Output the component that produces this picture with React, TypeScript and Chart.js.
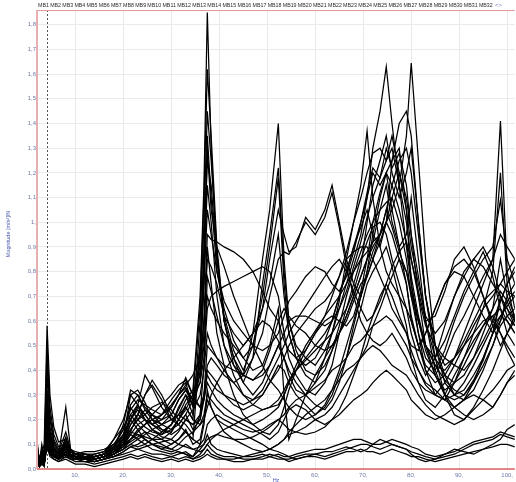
import { useEffect, useRef } from "react";
import { Chart, registerables } from "chart.js";

Chart.register(...registerables);

const freqHz = [
  2, 2.5, 3, 3.5, 4.1, 4.7, 5.5, 6.5, 8, 9,
  10, 12, 14, 16, 18, 20, 21.5, 23, 24.5, 26,
  28, 30, 31.5, 33, 34.5, 36, 36.8, 37.5, 38.3, 39.5,
  41, 43, 45, 47, 49, 50.5, 52.3, 53.5, 54.5, 56,
  58, 60, 62, 63.5, 65, 66.5, 68, 69.5, 70.8, 72,
  73.5, 74.8, 76, 77.5, 79, 80, 81.5, 83, 85, 87,
  89, 91, 93, 95, 97, 98.6, 100, 101.6,
];

const s01 = [
  0.08, 0.03, 0.06, 0.1, 0.58, 0.3, 0.17, 0.11, 0.12, 0.08,
  0.07, 0.06, 0.05, 0.06, 0.09, 0.14, 0.2, 0.26, 0.38, 0.33,
  0.25, 0.2, 0.22, 0.28, 0.32, 0.7, 1.15, 1.85, 1.3, 0.85,
  0.6, 0.45, 0.35, 0.3, 0.35, 0.42, 0.5, 0.45, 0.38, 0.32,
  0.3, 0.35, 0.45, 0.55, 0.65, 0.75, 0.85, 0.95, 1.1, 1.3,
  1.45, 1.63, 1.4, 1.15, 0.9, 0.75, 0.6, 0.5, 0.42, 0.4,
  0.45, 0.5, 0.55, 0.6, 0.62, 0.65, 0.6, 0.55,
];
const s02 = [
  0.12, 0.02, 0.1, 0.05, 0.5, 0.25, 0.14, 0.09, 0.1, 0.07,
  0.06, 0.05, 0.05, 0.06, 0.08, 0.18, 0.32, 0.3, 0.25, 0.22,
  0.2, 0.25, 0.3, 0.37, 0.3, 0.65, 1.1, 1.62, 1.35, 0.9,
  0.6, 0.45, 0.38, 0.55, 0.85, 1.05, 1.4, 0.85, 0.6, 0.48,
  0.4, 0.38, 0.42, 0.48, 0.55, 0.62, 0.7, 0.78, 0.85, 0.9,
  0.95, 1.0, 1.05, 1.15, 1.35, 1.645, 1.25, 0.85, 0.5, 0.35,
  0.3, 0.32, 0.38, 0.45, 0.55, 0.7, 0.65, 0.58,
];
const s03 = [
  0.04, 0.02, 0.05, 0.03, 0.45, 0.22, 0.12, 0.08, 0.09, 0.06,
  0.05, 0.05, 0.04, 0.05, 0.08, 0.12, 0.3, 0.32, 0.27, 0.2,
  0.16, 0.15, 0.2, 0.25, 0.2, 0.6, 1.0, 1.45, 1.25, 0.88,
  0.6, 0.42, 0.35, 0.45, 0.75, 0.95, 1.22, 0.8, 0.6, 0.5,
  0.45, 0.42, 0.48, 0.55, 0.68, 0.85, 1.0, 1.15, 1.37, 1.1,
  0.9, 0.8, 0.75, 0.7, 0.65, 0.6, 0.5, 0.42, 0.38, 0.45,
  0.55, 0.62, 0.7, 0.78, 0.85, 1.41, 0.8, 0.65,
];
const s04 = [
  0.1, 0.04, 0.08, 0.04, 0.38, 0.2, 0.11, 0.07, 0.08, 0.06,
  0.05, 0.04, 0.04, 0.05, 0.07, 0.1, 0.15, 0.22, 0.3, 0.36,
  0.3, 0.22, 0.18, 0.15, 0.12, 0.5, 0.9, 1.25, 1.15, 0.85,
  0.62, 0.48, 0.4, 0.5, 0.7, 0.9, 1.18, 0.75, 0.55, 0.45,
  0.42, 0.45, 0.52, 0.6, 0.7, 0.8, 0.9, 1.0, 1.1, 1.2,
  1.15, 1.2, 1.25, 1.3, 1.05, 0.75, 0.55, 0.4, 0.3, 0.28,
  0.35, 0.45, 0.55, 0.65, 0.8, 1.2, 0.75, 0.6,
];
const s05 = [
  0.03, 0.01, 0.03, 0.02, 0.32, 0.17, 0.1, 0.07, 0.15, 0.08,
  0.06, 0.05, 0.06, 0.07, 0.1, 0.13, 0.2, 0.25, 0.22, 0.18,
  0.22, 0.28, 0.32, 0.35, 0.25, 0.45, 0.75, 1.05, 0.95, 0.8,
  0.65, 0.52, 0.45, 0.5, 0.65, 0.85, 1.05, 0.95, 0.88, 0.9,
  1.02, 0.97, 1.05, 1.15, 1.0, 0.85, 0.75, 0.7, 0.8, 0.95,
  1.1, 1.2, 1.05, 0.9, 0.75, 0.6, 0.5, 0.55, 0.65, 0.75,
  0.82, 0.85, 0.8, 0.7, 0.6, 0.55, 0.5, 0.45,
];
const s06 = [
  0.05, 0.02, 0.04, 0.03, 0.28, 0.15, 0.09, 0.06, 0.1, 0.06,
  0.05, 0.04, 0.05, 0.06, 0.09, 0.16, 0.25, 0.2, 0.17, 0.15,
  0.14, 0.18, 0.25, 0.3, 0.22, 0.4, 0.6, 0.85, 0.82, 0.75,
  0.62, 0.55, 0.5, 0.55, 0.65, 0.75, 0.95, 0.7, 0.55, 0.45,
  0.38, 0.35, 0.4, 0.48, 0.58, 0.7, 0.8, 0.88, 0.95, 1.0,
  1.05, 1.08, 1.1, 1.0, 0.85, 0.7, 0.55, 0.45, 0.4, 0.48,
  0.6, 0.7, 0.78, 0.85, 0.9, 1.09, 0.85, 0.75,
];
const s07 = [
  0.06, 0.03, 0.05, 0.03, 0.22, 0.12, 0.08, 0.06, 0.09, 0.06,
  0.05, 0.06, 0.06, 0.07, 0.12, 0.17, 0.22, 0.18, 0.15, 0.12,
  0.12, 0.15, 0.2, 0.26, 0.3, 0.35, 0.45, 0.65, 0.7, 0.72,
  0.74, 0.76, 0.78, 0.8, 0.82, 0.8, 0.7, 0.55, 0.45, 0.38,
  0.32, 0.3, 0.35, 0.42, 0.55, 0.65, 0.75, 0.85, 0.92, 0.98,
  1.0, 0.95, 0.85, 0.75, 0.65, 0.55, 0.45, 0.38, 0.45, 0.58,
  0.7, 0.8, 0.85, 0.9, 0.82, 0.7, 0.65, 0.6,
];
const s08 = [
  0.02, 0.01, 0.02, 0.02, 0.18, 0.1, 0.07, 0.06, 0.25, 0.08,
  0.06, 0.05, 0.04, 0.05, 0.07, 0.09, 0.12, 0.15, 0.18, 0.2,
  0.22, 0.25, 0.3, 0.34, 0.38, 0.45, 0.6, 0.95, 0.93, 0.92,
  0.9, 0.88, 0.85, 0.8, 0.72, 0.65, 0.6, 0.52, 0.48, 0.45,
  0.48, 0.55, 0.62, 0.7, 0.78, 0.85, 0.88, 0.9, 0.9, 0.85,
  0.78, 0.72, 0.65, 0.6, 0.55, 0.5, 0.48, 0.55, 0.65, 0.75,
  0.8, 0.78, 0.7, 0.62, 0.55, 0.6, 0.7, 0.75,
];
const s09 = [
  0.07, 0.02, 0.06, 0.03, 0.15, 0.09, 0.07, 0.05, 0.13, 0.07,
  0.05, 0.05, 0.05, 0.06, 0.12, 0.2, 0.3, 0.26, 0.2, 0.16,
  0.13, 0.12, 0.15, 0.2, 0.18, 0.22, 0.3, 0.42, 0.45, 0.42,
  0.38, 0.35, 0.38, 0.45, 0.55, 0.7, 0.85, 0.88, 0.87, 0.92,
  1.0, 0.95, 1.02, 1.12, 0.98, 0.82, 0.7, 0.6, 0.55, 0.52,
  0.5, 0.52, 0.55, 0.5, 0.45, 0.4, 0.35, 0.32, 0.3, 0.35,
  0.42, 0.5, 0.58, 0.65, 0.7, 0.75, 0.8, 0.85,
];
const s10 = [
  0.09, 0.03, 0.07, 0.04, 0.2, 0.11, 0.08, 0.06, 0.11, 0.07,
  0.06, 0.07, 0.07, 0.08, 0.1, 0.12, 0.16, 0.2, 0.24, 0.22,
  0.18, 0.16, 0.18, 0.22, 0.16, 0.2, 0.28, 0.4, 0.38, 0.35,
  0.3, 0.26, 0.24, 0.26, 0.3, 0.35, 0.42, 0.4, 0.35, 0.3,
  0.26, 0.22, 0.25, 0.3, 0.38, 0.45, 0.55, 0.65, 0.75, 0.8,
  0.85, 0.9, 0.82, 0.7, 0.58, 0.45, 0.35, 0.28, 0.25, 0.3,
  0.38, 0.45, 0.52, 0.58, 0.62, 0.55, 0.48, 0.42,
];
const s11 = [
  0.05, 0.02, 0.04, 0.02, 0.12, 0.07, 0.05, 0.04, 0.07, 0.05,
  0.04, 0.04, 0.03, 0.04, 0.06, 0.1, 0.14, 0.12, 0.1, 0.12,
  0.15, 0.18, 0.22, 0.25, 0.2, 0.18, 0.2, 0.25, 0.3, 0.35,
  0.4, 0.45, 0.5, 0.55, 0.6, 0.58, 0.52, 0.45, 0.4, 0.35,
  0.3, 0.26, 0.24, 0.28, 0.35, 0.45, 0.58, 0.7, 0.8, 0.88,
  0.95, 1.05, 1.15, 1.25, 1.3, 1.2, 0.95, 0.7, 0.5, 0.38,
  0.3, 0.28, 0.32, 0.4, 0.5, 0.6, 0.68, 0.72,
];
const s12 = [
  0.04, 0.02, 0.04, 0.03, 0.1, 0.06, 0.05, 0.04, 0.06, 0.05,
  0.05, 0.05, 0.04, 0.05, 0.08, 0.12, 0.18, 0.22, 0.2, 0.18,
  0.2, 0.22, 0.28, 0.32, 0.28, 0.25, 0.28, 0.35, 0.32, 0.28,
  0.25, 0.22, 0.2, 0.18, 0.2, 0.22, 0.25, 0.3, 0.35, 0.42,
  0.5, 0.56, 0.62, 0.66, 0.7, 0.75, 0.8, 0.85, 0.88, 0.92,
  0.95, 1.0, 1.25, 1.4, 1.45, 1.35, 1.0, 0.7, 0.45, 0.3,
  0.22, 0.2, 0.25, 0.32, 0.4, 0.48, 0.55, 0.6,
];
const s13 = [
  0.03, 0.02, 0.03, 0.02, 0.14, 0.08, 0.06, 0.05, 0.08, 0.06,
  0.05, 0.05, 0.04, 0.05, 0.07, 0.09, 0.11, 0.13, 0.15, 0.14,
  0.12, 0.1, 0.12, 0.15, 0.12, 0.1, 0.12, 0.18, 0.2, 0.22,
  0.2, 0.18, 0.16, 0.15, 0.16, 0.18, 0.2, 0.22, 0.25, 0.28,
  0.3, 0.33, 0.36, 0.4, 0.42, 0.45, 0.5, 0.52, 0.55, 0.58,
  0.6, 0.62, 0.6, 0.55, 0.5, 0.45, 0.4, 0.35, 0.32, 0.28,
  0.25, 0.22, 0.2, 0.22, 0.25, 0.3, 0.35, 0.4,
];
const s14 = [
  0.06, 0.02, 0.05, 0.03, 0.3, 0.14, 0.08, 0.06, 0.08, 0.06,
  0.05, 0.06, 0.05, 0.06, 0.08, 0.12, 0.2, 0.16, 0.12, 0.1,
  0.09, 0.08, 0.1, 0.13, 0.15, 0.18, 0.22, 0.3, 0.28, 0.25,
  0.22, 0.2, 0.18, 0.16, 0.14, 0.12, 0.15, 0.2, 0.24, 0.26,
  0.24, 0.2, 0.18, 0.2, 0.24, 0.3, 0.38, 0.46, 0.55, 0.62,
  0.7, 0.75, 0.7, 0.62, 0.55, 0.48, 0.4, 0.34, 0.3, 0.28,
  0.3, 0.35, 0.42, 0.5, 0.58, 0.62, 0.6, 0.55,
];
const s15 = [
  0.08, 0.03, 0.06, 0.03, 0.25, 0.13, 0.08, 0.06, 0.09, 0.06,
  0.05, 0.05, 0.05, 0.06, 0.08, 0.1, 0.12, 0.14, 0.13, 0.12,
  0.1, 0.08, 0.07, 0.06, 0.05, 0.1, 0.18, 0.32, 0.25, 0.2,
  0.18, 0.16, 0.14, 0.12, 0.1, 0.08, 0.1, 0.12, 0.14, 0.15,
  0.17, 0.2, 0.22, 0.25, 0.3, 0.35, 0.4, 0.45, 0.5, 0.58,
  0.65, 0.72, 0.78, 0.85, 0.8, 0.7, 0.6, 0.5, 0.42, 0.36,
  0.32, 0.3, 0.35, 0.42, 0.5, 0.58, 0.62, 0.65,
];
const s16 = [
  0.05, 0.02, 0.04, 0.03, 0.16, 0.09, 0.06, 0.05, 0.07, 0.05,
  0.04, 0.04, 0.03, 0.04, 0.06, 0.08, 0.12, 0.16, 0.18, 0.22,
  0.26, 0.3, 0.34, 0.36, 0.3, 0.25, 0.3, 0.38, 0.35, 0.32,
  0.3, 0.28, 0.26, 0.28, 0.32, 0.38, 0.45, 0.5, 0.55, 0.6,
  0.66, 0.72, 0.78, 0.82, 0.85, 0.8, 0.72, 0.65, 0.6, 0.62,
  0.68, 0.75, 0.82, 0.88, 0.92, 0.85, 0.72, 0.6, 0.62, 0.72,
  0.85, 0.9, 0.82, 0.7, 0.58, 0.5, 0.55, 0.62,
];
const s17 = [
  0.04, 0.02, 0.03, 0.02, 0.11, 0.07, 0.05, 0.04, 0.06, 0.05,
  0.04, 0.04, 0.04, 0.05, 0.06, 0.09, 0.14, 0.18, 0.2, 0.18,
  0.16, 0.14, 0.16, 0.2, 0.24, 0.3, 0.4, 0.55, 0.5, 0.45,
  0.4, 0.35, 0.3, 0.28, 0.3, 0.35, 0.4, 0.45, 0.5, 0.55,
  0.6, 0.65, 0.68, 0.72, 0.78, 0.88, 1.0, 1.1, 1.2, 1.28,
  1.3, 1.25, 1.3, 1.15, 1.0, 0.85, 0.7, 0.58, 0.5, 0.45,
  0.42, 0.4, 0.45, 0.52, 0.6, 0.68, 0.75, 0.8,
];
const s18 = [
  0.07, 0.03, 0.06, 0.03, 0.2, 0.1, 0.07, 0.05, 0.08, 0.06,
  0.05, 0.05, 0.05, 0.06, 0.09, 0.14, 0.26, 0.3, 0.24, 0.2,
  0.18, 0.22, 0.28, 0.32, 0.26, 0.45, 0.8, 1.15, 1.0, 0.7,
  0.5, 0.38, 0.3, 0.26, 0.24, 0.25, 0.28, 0.32, 0.36, 0.4,
  0.44, 0.48, 0.52, 0.55, 0.6, 0.65, 0.72, 0.82, 1.0, 1.15,
  1.25, 1.35, 1.2, 1.1, 1.2, 1.3, 1.0, 0.7, 0.5, 0.42,
  0.45, 0.52, 0.6, 0.68, 0.72, 0.75, 0.72, 0.7,
];
const s19 = [
  0.03, 0.01, 0.02, 0.02, 0.09, 0.05, 0.04, 0.03, 0.05, 0.04,
  0.04, 0.03, 0.03, 0.04, 0.05, 0.07, 0.09, 0.1, 0.12, 0.1,
  0.08, 0.07, 0.08, 0.1, 0.08, 0.07, 0.08, 0.1, 0.12, 0.14,
  0.16, 0.18, 0.2, 0.22, 0.24, 0.25, 0.26, 0.3, 0.35, 0.4,
  0.45, 0.5, 0.55, 0.6, 0.7, 0.8, 0.9, 0.98, 1.05, 0.95,
  0.9, 1.0, 0.95, 0.85, 0.75, 0.62, 0.5, 0.4, 0.35, 0.38,
  0.45, 0.55, 0.65, 0.75, 0.85, 0.95, 0.9, 0.85,
];
const s20 = [
  0.05, 0.02, 0.04, 0.02, 0.13, 0.08, 0.06, 0.04, 0.07, 0.05,
  0.04, 0.05, 0.05, 0.06, 0.08, 0.11, 0.16, 0.2, 0.22, 0.25,
  0.27, 0.24, 0.2, 0.18, 0.14, 0.22, 0.42, 0.78, 0.72, 0.62,
  0.5, 0.42, 0.38, 0.36, 0.4, 0.48, 0.6, 0.65, 0.62, 0.58,
  0.55, 0.5, 0.48, 0.5, 0.55, 0.62, 0.7, 0.78, 0.85, 0.92,
  1.05, 1.15, 1.0, 0.9, 0.95, 1.1, 0.85, 0.6, 0.4, 0.3,
  0.25, 0.28, 0.35, 0.45, 0.55, 0.68, 0.75, 0.82,
];
const s21 = [
  0.04, 0.02, 0.03, 0.02, 0.1, 0.06, 0.05, 0.04, 0.06, 0.04,
  0.04, 0.04, 0.03, 0.04, 0.05, 0.07, 0.09, 0.08, 0.09, 0.1,
  0.11, 0.12, 0.1, 0.09, 0.08, 0.09, 0.1, 0.12, 0.13, 0.14,
  0.13, 0.12, 0.12, 0.13, 0.15, 0.17, 0.2, 0.18, 0.16, 0.15,
  0.14, 0.15, 0.17, 0.2, 0.22, 0.25, 0.28, 0.3, 0.32, 0.35,
  0.38, 0.4, 0.38, 0.35, 0.32, 0.28, 0.25, 0.22, 0.2, 0.22,
  0.25, 0.28, 0.3, 0.28, 0.25, 0.3, 0.35, 0.38,
];
const s22 = [
  0.06, 0.02, 0.05, 0.03, 0.24, 0.12, 0.08, 0.06, 0.12, 0.07,
  0.06, 0.06, 0.05, 0.06, 0.1, 0.16, 0.24, 0.28, 0.26, 0.24,
  0.22, 0.26, 0.3, 0.33, 0.28, 0.5, 0.85, 1.35, 1.1, 0.8,
  0.68, 0.6, 0.55, 0.5, 0.48, 0.5, 0.55, 0.62, 0.68, 0.72,
  0.78, 0.82, 0.8, 0.75, 0.72, 0.78, 0.88, 1.0, 1.12, 1.22,
  1.18, 1.3, 1.22, 1.28, 1.15, 0.95, 0.7, 0.5, 0.38, 0.32,
  0.35, 0.42, 0.5, 0.58, 0.65, 0.85, 0.7, 0.62,
];
const s23 = [
  0.03, 0.01, 0.03, 0.02, 0.17, 0.09, 0.06, 0.05, 0.09, 0.05,
  0.05, 0.05, 0.04, 0.05, 0.07, 0.1, 0.18, 0.22, 0.3, 0.34,
  0.28, 0.2, 0.18, 0.22, 0.28, 0.35, 0.55, 0.9, 0.75, 0.55,
  0.42, 0.3, 0.22, 0.18, 0.15, 0.14, 0.18, 0.25, 0.32, 0.4,
  0.48, 0.55, 0.6, 0.62, 0.6, 0.58, 0.62, 0.72, 0.85, 1.0,
  1.12, 1.2, 1.15, 1.05, 0.92, 0.78, 0.62, 0.5, 0.45, 0.52,
  0.62, 0.72, 0.8, 0.88, 0.78, 0.65, 0.55, 0.5,
];
const s24 = [
  0.05, 0.02, 0.04, 0.03, 0.14, 0.08, 0.06, 0.05, 0.07, 0.05,
  0.05, 0.05, 0.05, 0.06, 0.08, 0.12, 0.2, 0.24, 0.2, 0.16,
  0.14, 0.16, 0.2, 0.24, 0.3, 0.38, 0.5, 0.7, 0.65, 0.6,
  0.55, 0.5, 0.45, 0.4, 0.42, 0.5, 0.65, 0.3, 0.12, 0.2,
  0.3, 0.38, 0.45, 0.5, 0.55, 0.6, 0.68, 0.75, 0.78, 0.85,
  0.92, 1.0, 1.1, 1.2, 1.1, 0.95, 0.78, 0.6, 0.45, 0.38,
  0.35, 0.38, 0.45, 0.55, 0.65, 0.72, 0.68, 0.6,
];
const s25 = [
  0.04, 0.02, 0.03, 0.02, 0.11, 0.07, 0.05, 0.04, 0.06, 0.04,
  0.04, 0.04, 0.04, 0.05, 0.06, 0.08, 0.1, 0.12, 0.14, 0.16,
  0.18, 0.2, 0.22, 0.2, 0.18, 0.2, 0.3, 0.5, 0.48, 0.45,
  0.42, 0.4, 0.38, 0.36, 0.38, 0.42, 0.5, 0.55, 0.6, 0.62,
  0.62, 0.6, 0.58, 0.6, 0.65, 0.72, 0.82, 0.92, 1.02, 1.1,
  1.18, 1.25, 1.35, 1.2, 1.05, 0.9, 0.75, 0.62, 0.55, 0.6,
  0.7, 0.78, 0.85, 0.82, 0.75, 0.7, 0.62, 0.58,
];
const s26 = [
  0.07, 0.02, 0.05, 0.03, 0.16, 0.09, 0.06, 0.05, 0.1, 0.06,
  0.05, 0.05, 0.04, 0.05, 0.07, 0.11, 0.15, 0.14, 0.12, 0.1,
  0.08, 0.1, 0.12, 0.16, 0.1, 0.12, 0.2, 0.28, 0.25, 0.2,
  0.15, 0.12, 0.1, 0.08, 0.07, 0.08, 0.1, 0.12, 0.15, 0.18,
  0.22, 0.25, 0.28, 0.32, 0.36, 0.4, 0.42, 0.45, 0.48, 0.5,
  0.48, 0.45, 0.42, 0.4, 0.38, 0.35, 0.3, 0.26, 0.22, 0.2,
  0.18, 0.2, 0.24, 0.28, 0.32, 0.36, 0.4, 0.42,
];
const s27 = [
  0.08, 0.03, 0.06, 0.03, 0.27, 0.14, 0.09, 0.06, 0.1, 0.06,
  0.05, 0.05, 0.05, 0.06, 0.09, 0.13, 0.22, 0.26, 0.22, 0.18,
  0.15, 0.18, 0.24, 0.3, 0.26, 0.42, 0.75, 1.3, 1.05, 0.9,
  0.82, 0.7, 0.6, 0.5, 0.42, 0.36, 0.32, 0.28, 0.25, 0.22,
  0.2, 0.22, 0.26, 0.32, 0.4, 0.5, 0.6, 0.7, 0.78, 0.85,
  0.95, 1.05, 0.98, 0.88, 0.8, 0.72, 0.6, 0.48, 0.38, 0.3,
  0.28, 0.3, 0.36, 0.44, 0.55, 0.62, 0.66, 0.7,
];
const b01 = [
  0.03, 0.01, 0.03, 0.02, 0.2, 0.1, 0.06, 0.04, 0.05, 0.04,
  0.03, 0.03, 0.02, 0.03, 0.04, 0.05, 0.06, 0.05, 0.06, 0.05,
  0.04, 0.05, 0.04, 0.05, 0.04, 0.06, 0.08, 0.1, 0.08, 0.06,
  0.05, 0.05, 0.04, 0.04, 0.05, 0.06, 0.05, 0.04, 0.04, 0.05,
  0.06, 0.06, 0.05, 0.06, 0.07, 0.08, 0.09, 0.1, 0.1, 0.09,
  0.08, 0.09, 0.1, 0.09, 0.08, 0.07, 0.06, 0.05, 0.04, 0.05,
  0.06, 0.08, 0.1, 0.11, 0.12, 0.14, 0.13, 0.12,
];
const b02 = [
  0.06, 0.02, 0.05, 0.03, 0.15, 0.08, 0.06, 0.05, 0.07, 0.05,
  0.04, 0.04, 0.03, 0.04, 0.05, 0.06, 0.07, 0.08, 0.07, 0.06,
  0.06, 0.05, 0.06, 0.07, 0.05, 0.08, 0.1, 0.14, 0.1, 0.08,
  0.07, 0.06, 0.05, 0.05, 0.06, 0.05, 0.06, 0.05, 0.05, 0.06,
  0.07, 0.08, 0.08, 0.09, 0.1, 0.11, 0.12, 0.12, 0.11, 0.1,
  0.1, 0.11, 0.12, 0.11, 0.1, 0.09, 0.08, 0.06, 0.05, 0.06,
  0.07, 0.09, 0.11, 0.12, 0.13, 0.15, 0.14, 0.13,
];
const b03 = [
  0.1, 0.03, 0.08, 0.02, 0.25, 0.12, 0.08, 0.06, 0.09, 0.06,
  0.05, 0.05, 0.04, 0.05, 0.06, 0.08, 0.1, 0.09, 0.1, 0.08,
  0.07, 0.06, 0.07, 0.06, 0.04, 0.05, 0.06, 0.08, 0.06, 0.05,
  0.04, 0.04, 0.05, 0.06, 0.07, 0.08, 0.07, 0.06, 0.05, 0.04,
  0.05, 0.06, 0.07, 0.07, 0.08, 0.09, 0.08, 0.07, 0.08, 0.1,
  0.12, 0.11, 0.1, 0.09, 0.08, 0.06, 0.04, 0.03, 0.04, 0.06,
  0.08, 0.07, 0.06, 0.08, 0.1, 0.12, 0.16, 0.18,
];
const b04 = [
  0.02, 0.01, 0.02, 0.01, 0.12, 0.06, 0.04, 0.03, 0.04, 0.03,
  0.02, 0.02, 0.01, 0.02, 0.03, 0.04, 0.05, 0.04, 0.05, 0.04,
  0.03, 0.04, 0.03, 0.04, 0.03, 0.04, 0.05, 0.06, 0.05, 0.04,
  0.04, 0.03, 0.03, 0.04, 0.04, 0.05, 0.04, 0.04, 0.03, 0.04,
  0.05, 0.05, 0.04, 0.05, 0.06, 0.07, 0.07, 0.08, 0.07, 0.07,
  0.06, 0.07, 0.08, 0.07, 0.06, 0.05, 0.05, 0.04, 0.03, 0.04,
  0.05, 0.06, 0.07, 0.08, 0.09, 0.1, 0.1, 0.09,
];

const seriesList = [
  s01, s02, s03, s04, s05, s06, s07, s08, s09, s10, s11, s12, s13, s14,
  s15, s16, s17, s18, s19, s20, s21, s22, s23, s24, s25, s26, s27,
  b01, b02, b03, b04,
];

const channelLabels = [
  "MB1", "MB2", "MB3", "MB4", "MB5", "MB6", "MB7", "MB8", "MB9", "MB10",
  "MB11", "MB12", "MB13", "MB14", "MB15", "MB16", "MB17", "MB18", "MB19", "MB20",
  "MB21", "MB22", "MB23", "MB24", "MB25", "MB26", "MB27", "MB28", "MB29", "MB30",
  "MB31", "MB32",
];
const xTicks = [10, 20, 30, 40, 50, 60, 70, 80, 90, 100];
const yTicks = [0, 0.1, 0.2, 0.3, 0.4, 0.5, 0.6, 0.7, 0.8, 0.9, 1, 1.1, 1.2, 1.3, 1.4, 1.5, 1.6, 1.7, 1.8];
const cursorHz = 4.1;
const yTitle = "Magnitude [m/s²]/N";
const xTitle = "Hz";

const TICK_COLOR = "#6e7aa8";
const FONT = '"Liberation Sans", Arial, sans-serif';

const overlay = {
  id: "overlay",
  beforeDatasetsDraw(chart: any) {
    const { ctx, chartArea: a, scales } = chart;
    const cx = Math.round(scales.x.getPixelForValue(cursorHz)) + 0.5;
    ctx.save();
    ctx.strokeStyle = "#555";
    ctx.lineWidth = 1;
    ctx.setLineDash([2, 2]);
    ctx.beginPath();
    ctx.moveTo(cx, a.top);
    ctx.lineTo(cx, a.bottom);
    ctx.stroke();
    ctx.restore();
  },
  afterDraw(chart: any) {
    const { ctx, chartArea: a } = chart;
    ctx.save();
    ctx.strokeStyle = "#e49a9a";
    ctx.lineWidth = 1;
    ctx.beginPath();
    ctx.moveTo(a.left, a.top + 0.5);
    ctx.lineTo(a.right, a.top + 0.5);
    ctx.stroke();
    ctx.strokeStyle = "#e6b0b0";
    ctx.lineWidth = 2;
    ctx.beginPath();
    ctx.moveTo(a.left, a.top);
    ctx.lineTo(a.left, a.bottom);
    ctx.stroke();
    ctx.strokeStyle = "#e06262";
    ctx.lineWidth = 1.5;
    ctx.beginPath();
    ctx.moveTo(a.left, a.bottom);
    ctx.lineTo(a.right, a.bottom);
    ctx.stroke();

    // channel row
    ctx.font = `6px ${FONT}`;
    ctx.fillStyle = "#2a2a2a";
    ctx.textBaseline = "middle";
    ctx.textAlign = "left";
    const startX = 38;
    const endX = 494;
    const gap = 1.3;
    const widths = channelLabels.map((l) => ctx.measureText(l).width);
    const total = widths.reduce((s, w) => s + w, 0);
    const k = Math.min(1, (endX - startX - gap * channelLabels.length) / total);
    let x = startX;
    channelLabels.forEach((l, i) => {
      const w = widths[i] * k;
      ctx.fillText(l, x, 5, w);
      x += w + gap;
    });
    ctx.fillStyle = "#7080c0";
    ctx.fillText("<>", x + 1, 5);

    // axis titles
    ctx.fillStyle = "#4a5ab0";
    ctx.font = `5.5px ${FONT}`;
    ctx.save();
    ctx.translate(8, 234);
    ctx.rotate(-Math.PI / 2);
    ctx.textAlign = "center";
    ctx.fillText(yTitle, 0, 0);
    ctx.restore();
    ctx.textAlign = "center";
    ctx.fillText(xTitle, 276, 480);
    ctx.restore();
  },
};

export default function App() {
  const ref = useRef<HTMLCanvasElement | null>(null);
  useEffect(() => {
    document.body.style.margin = "0";
    const canvas = ref.current;
    if (!canvas) return;
    const chart = new Chart(canvas, {
      type: "line",
      data: {
        datasets: seriesList.map((vals, i) => ({
          label: `S${i + 1}`,
          data: vals.map((y, j) => ({ x: freqHz[j], y })),
          borderColor: "#000",
          borderWidth: 1.25,
          pointRadius: 0,
          fill: false,
          tension: 0,
        })),
      },
      options: {
        responsive: false,
        animation: false,
        devicePixelRatio: 1,
        layout: { padding: { top: 10, right: 0, left: 0, bottom: 0 } },
        plugins: { legend: { display: false }, tooltip: { enabled: false } },
        scales: {
          x: {
            type: "linear",
            min: 2,
            max: 101.6,
            afterBuildTicks: (s: any) => {
              s.ticks = xTicks.map((v) => ({ value: v }));
            },
            afterFit: (s: any) => {
              s.height = 13;
            },
            grid: { color: "#eaeaea", drawTicks: false },
            border: { display: false },
            ticks: {
              color: TICK_COLOR,
              font: { size: 6, family: FONT },
              padding: 3,
              maxRotation: 0,
              autoSkip: false,
              callback: (v: any) => `${v},`,
            },
          },
          y: {
            type: "linear",
            min: 0,
            max: 1.86,
            afterBuildTicks: (s: any) => {
              s.ticks = yTicks.map((v) => ({ value: v }));
            },
            afterFit: (s: any) => {
              s.width = 37;
            },
            grid: { color: "#eaeaea", drawTicks: false },
            border: { display: false },
            ticks: {
              color: TICK_COLOR,
              font: { size: 6, family: FONT },
              padding: 1,
              autoSkip: false,
              callback: (v: any) => (v === 1 ? "1," : Number(v).toFixed(1).replace(".", ",")),
            },
          },
        },
      },
      plugins: [overlay],
    });
    return () => chart.destroy();
  }, []);
  return <canvas ref={ref} width={516} height={482} style={{ display: "block" }} />;
}
